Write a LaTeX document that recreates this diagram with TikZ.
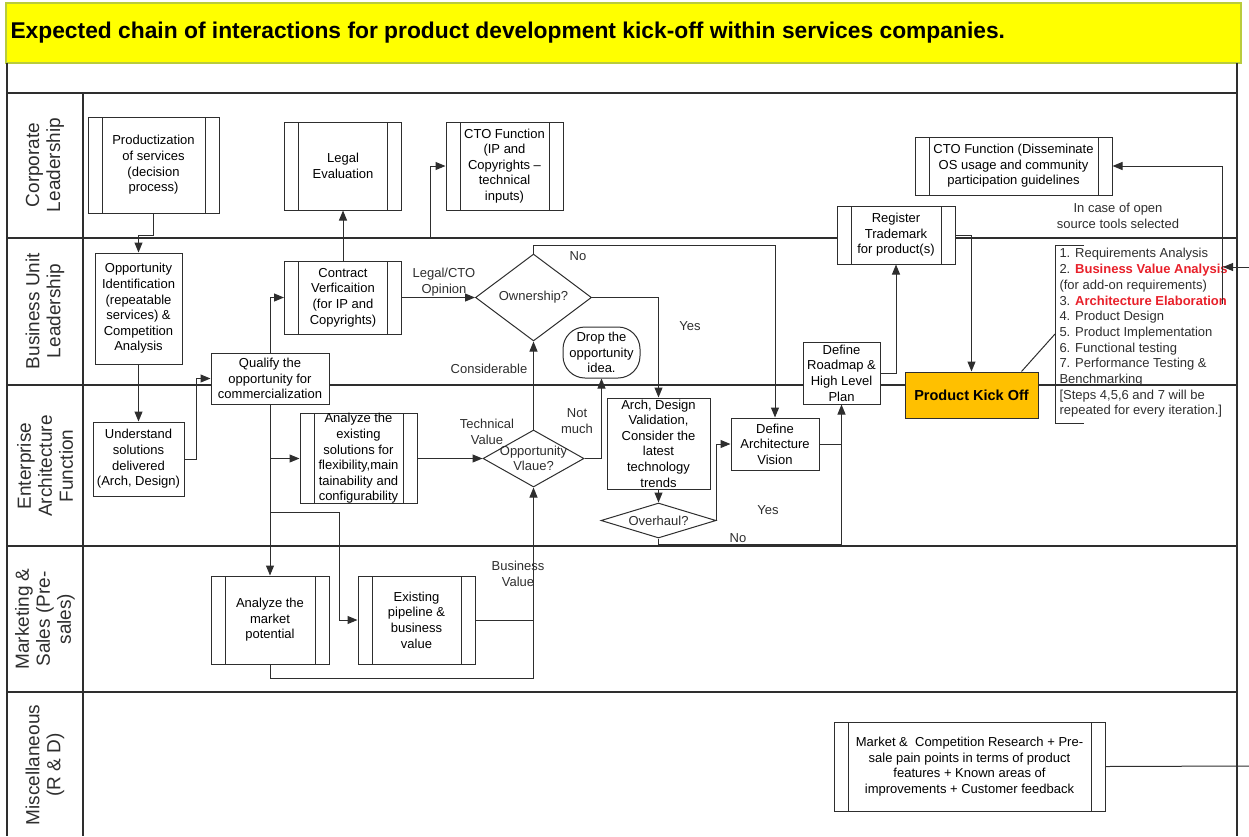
\documentclass[tikz,border=0pt]{standalone}
\usepackage{fontspec}
\setmainfont{Liberation Sans}
\usetikzlibrary{arrows.meta,shapes.geometric,calc}
\definecolor{ink}{HTML}{2E2E2E}
\definecolor{band}{HTML}{FFFF00}
\definecolor{bandline}{HTML}{B9CC3C}
\definecolor{kick}{HTML}{FFC000}
\definecolor{hot}{HTML}{E8202A}
\tikzset{
  >={Triangle[length=10pt,width=8pt]},
  every picture/.style={line width=1pt},
  lane/.style={draw=ink,line width=1.4pt},
  lanelab/.style={rotate=90,align=center,text=ink,font=\fontsize{19}{21}\selectfont},
  title/.style={font=\fontsize{22.8}{26}\selectfont\bfseries,text=black,inner sep=0pt},
  bx/.style={draw=ink,fill=white,align=center,inner sep=0pt,line width=1pt,font=\fontsize{13}{15.6}\selectfont},
  proc/.style={bx,path picture={
      \draw[ink,line width=1pt] ([xshift=14pt]path picture bounding box.north west) -- ([xshift=14pt]path picture bounding box.south west)
        ([xshift=-14pt]path picture bounding box.north east) -- ([xshift=-14pt]path picture bounding box.south east);}},
  term/.style={bx,rounded corners=22pt},
  dec/.style={diamond,draw=ink,fill=white,inner sep=0pt,line width=1pt},
  kickbox/.style={bx,fill=kick,font=\fontsize{14.5}{16}\selectfont\bfseries},
  lab/.style={align=center,text=ink,inner sep=0pt,font=\fontsize{13}{15.6}\selectfont},
  listtxt/.style={align=left,text=ink,inner sep=0pt,font=\fontsize{13}{15.7}\selectfont},
  arr/.style={->,draw=ink},
  ln/.style={draw=ink},
}

\begin{document}
\begin{tikzpicture}[x=1pt,y=-1pt]
  \useasboundingbox (0,0) rectangle (1249,836);
  \filldraw[fill=band,draw=bandline,line width=1.2pt] (6,3) rectangle (1241,63);
  \node[title,anchor=west] (title) at (10,33) {Expected chain of interactions for product development kick-off within services companies.};
  \draw[lane] (7,63) -- (7,836);
  \draw[lane] (1237,63) -- (1237,836);
  \draw[lane] (83,93) -- (83,836);
  \foreach \y in {93,238,385,546,692} \draw[lane] (7,\y) -- (1237,\y);
  \foreach \y/\t [count=\i] in {165/{Corporate\\Leadership},311/{Business Unit\\Leadership},466/{Enterprise\\Architecture\\Function},619/{Marketing \&\\Sales (Pre-\\sales)},765/{Miscellaneous\\(R \& D)}}
    \node[lanelab] (lane\i) at (45,\y) {\t};

  \node[proc,minimum width=131,minimum height=96] (prod) at (153.5,165) {Productization\\of services\\(decision\\process)};
  \node[proc,minimum width=117,minimum height=88] (legal) at (343,166) {Legal\\Evaluation};
  \node[proc,minimum width=117,minimum height=88] (cto) at (504.5,166) {CTO Function\\(IP and\\Copyrights --\\technical\\inputs)};
  \node[proc,minimum width=197,minimum height=58] (ctoos) at (1013.5,166) {CTO Function (Disseminate\\OS usage and community\\participation guidelines};
  \node[proc,minimum width=118,minimum height=58] (reg) at (896,235) {Register\\Trademark\\for product(s)};
  \node[bx,minimum width=87,minimum height=111] (oppid) at (138.5,308.5) {Opportunity\\Identification\\(repeatable\\services) \&\\Competition\\Analysis};
  \node[proc,minimum width=117,minimum height=73] (contract) at (343,297.5) {Contract\\Verficaition\\(for IP and\\Copyrights)};
  \node[dec,minimum width=116,minimum height=87,label={[lab,name=ownt]center:Ownership?}] (own) at (533.5,297.5) {};
  \node[term,minimum width=77,minimum height=51] (drop) at (601.5,352.5) {Drop the\\opportunity\\idea.};
  \node[bx,minimum width=118,minimum height=51] (qualify) at (270,378.5) {Qualify the\\opportunity for\\commercialization};
  \node[bx,minimum width=91,minimum height=74] (underst) at (138.5,459) {Understand\\solutions\\delivered\\(Arch, Design)};
  \node[proc,minimum width=117,minimum height=88] (anexist) at (358.5,458.5) {Analyze the\\existing\\solutions for\\flexibility,main\\tainability and\\configurability};
  \node[dec,minimum width=101,minimum height=57,label={[lab,name=oppvalt]center:Opportunity\\Vlaue?}] (oppval) at (533.5,458.5) {};
  \node[bx,minimum width=103,minimum height=91] (archval) at (658.5,443.5) {Arch, Design\\Validation,\\Consider the\\latest\\technology\\trends};
  \node[dec,minimum width=115,minimum height=35,label={[lab,name=overt]center:Overhaul?}] (overhaul) at (658.5,520.5) {};
  \node[bx,minimum width=88,minimum height=52] (vision) at (775,444) {Define\\Architecture\\Vision};
  \node[bx,minimum width=77,minimum height=62] (roadmap) at (841.5,373) {Define\\Roadmap \&\\High Level\\Plan};
  \node[kickbox,minimum width=133,minimum height=46] (kickoff) at (971.5,395) {Product Kick Off};
  \node[listtxt,anchor=north west] (steps) at (1059,248) {1. Requirements Analysis\\2. {\color{hot}\bfseries Business Value Analysis}\\(for add-on requirements)\\3. {\color{hot}\bfseries Architecture Elaboration}\\4. Product Design\\5. Product Implementation\\6. Functional testing\\7. Performance Testing \&\\Benchmarking\\{[}Steps 4,5,6 and 7 will be\\repeated for every iteration.{]}};
  \node[proc,minimum width=118,minimum height=88] (market) at (270,620) {Analyze the\\market\\potential};
  \node[proc,minimum width=117,minimum height=88] (pipeline) at (416.5,620) {Existing\\pipeline \&\\business\\value};
  \node[proc,minimum width=271,minimum height=89] (research) at (969.5,766.5) {Market \&~~Competition Research + Pre-\\sale pain points in terms of product\\features + Known areas of\\improvements + Customer feedback};

  \node[lab] (lopinion) at (444,282) {Legal/CTO\\Opinion};
  \node[lab] (lno1) at (578,256) {No};
  \node[lab] (lyes1) at (690,326) {Yes};
  \node[lab] (lconsid) at (489,369) {Considerable};
  \node[lab] (ltech) at (487,432) {Technical\\Value};
  \node[lab] (lnotmuch) at (577,421) {Not\\much};
  \node[lab] (lyes2) at (768,510) {Yes};
  \node[lab] (lno2) at (738,538) {No};
  \node[lab] (lopen) at (1118,216) {In case of open\\source tools selected};
  \node[lab] (lbusval) at (518,574) {Business\\Value};

  \coordinate (ctoup) at (430.5,238);
  \coordinate (noturn) at (533.5,245);
  \coordinate (brp) at (339,512);
  \coordinate (noline) at (658.5,544);
  \coordinate (brk) at (1055,334);
  \coordinate (aeend) at (1222,304);
  \coordinate (rin) at (1249,267);
  \coordinate (bvaend) at (1223,267);
  \coordinate (rout) at (1249,766);

  \draw[arr] (prod.south) |- ($(oppid.north)+(0,-17)$) -- (oppid.north);
  \draw[arr] (oppid.south) -- (underst.north);
  \draw[arr] (underst.east) -- ++(12,0) |- (qualify.west);
  \draw[arr] (qualify.north) |- (contract.west);
  \draw[arr] (qualify.south) -- (market.north);
  \draw[arr] (qualify.south |- anexist.west) -- (anexist.west);
  \draw[arr] (qualify.south |- brp) -- (brp) |- (pipeline.west);
  \draw[arr] (contract.north) -- (legal.south);
  \draw[arr] (contract.north |- ctoup) -- (ctoup) |- (cto.west);
  \draw[arr] (contract.east) -- (own.west);
  \draw[arr] (own.north) -- (noturn) -| (vision.north);
  \draw[arr] (own.east) -| (archval.north);
  \draw[arr] (oppval.north) -- (own.south);
  \draw[arr] (oppval.east) -| (drop.south);
  \draw[arr] (anexist.east) -- (oppval.west);
  \draw[arr] (pipeline.east) -| (oppval.south);
  \draw[ln] (market.south) -- ++(0,14) -| (pipeline.east -| oppval.south);
  \draw[arr] (archval.south) -- (overhaul.north);
  \draw[arr] (overhaul.east) |- (vision.west);
  \draw[arr] (overhaul.south) -- (noline) -| (roadmap.south);
  \draw[ln] (vision.east) -- (vision.east -| roadmap.south);
  \draw[arr] (roadmap.east) -| (reg.south);
  \draw[arr] (reg.east) -| (kickoff.north);
  \draw[ln] (1084,245) -- (1055,245) -- (1055,423) -- (1084,423);
  \draw[ln] ($(kickoff.north east)+(-17,0)$) -- (brk);
  \draw[arr] (aeend) |- (ctoos.east);
  \draw[arr] (rin) -- (bvaend);
  \draw[ln] (research.east) -- (rout);
\end{tikzpicture}
\end{document}
